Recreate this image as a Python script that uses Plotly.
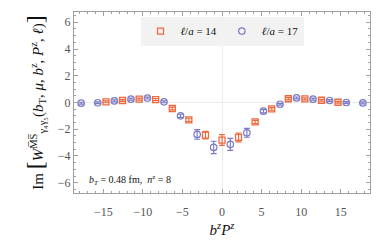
import plotly.graph_objects as go

# ℓ/a = 17 (blue circles)
blue_x = [-17.8, -15.7, -13.6, -11.5, -9.42, -7.33, -5.24, -3.14, -1.05,
          1.05, 3.14, 5.24, 7.33, 9.42, 11.5, 13.6, 15.7, 17.8]
blue_y = [-0.05, -0.02, 0.12, 0.25, 0.33, 0.05, -1.0, -2.39, -3.36,
          -3.13, -2.27, -0.65, -0.13, 0.34, 0.25, 0.15, 0.0, -0.03]
blue_err = [0.07, 0.07, 0.07, 0.07, 0.07, 0.07, 0.12, 0.36, 0.46,
            0.45, 0.33, 0.12, 0.07, 0.07, 0.07, 0.07, 0.07, 0.07]

# ℓ/a = 14 (orange squares)
orange_x = [-14.66, -12.57, -10.47, -8.38, -6.28, -4.19, -2.09, 0.0,
            2.09, 4.19, 6.28, 8.38, 10.47, 12.57, 14.66]
orange_y = [0.05, 0.15, 0.25, 0.22, -0.45, -1.3, -2.44, -2.81,
            -2.61, -1.45, -0.48, 0.28, 0.27, 0.17, 0.02]
orange_err = [0.07, 0.07, 0.07, 0.08, 0.1, 0.12, 0.28, 0.4,
              0.33, 0.12, 0.1, 0.08, 0.07, 0.07, 0.07]

x_ticks = [-15, -10, -5, 0, 5, 10, 15]
x_ticklabels = ["\u221215", "\u221210", "\u22125", "0", "5", "10", "15"]
y_ticks = [-6, -4, -2, 0, 2, 4, 6]
y_ticklabels = ["\u22126", "\u22124", "\u22122", "0", "2", "4", "6"]

ORANGE = "#ee6a3c"
BLUE = "#7c7cc6"
SERIF = "Liberation Serif, Times New Roman, serif"

fig = go.Figure()
fig.add_trace(go.Scatter(
    x=orange_x, y=orange_y, mode="markers",
    name="<i>\u2113</i>/<i>a</i> = 14",
    marker=dict(symbol="square-open", size=6, color=ORANGE, line=dict(width=1.3, color=ORANGE)),
    error_y=dict(type="data", array=orange_err, visible=True, color=ORANGE, thickness=1.2, width=3),
))
fig.add_trace(go.Scatter(
    x=blue_x, y=blue_y, mode="markers",
    name="<i>\u2113</i>/<i>a</i> = 17",
    marker=dict(symbol="circle-open", size=6.5, color=BLUE, line=dict(width=1.2, color=BLUE)),
    error_y=dict(type="data", array=blue_err, visible=True, color=BLUE, thickness=1.2, width=3),
))

axis_common = dict(
    showline=True, linecolor="#a0a0a0", linewidth=1, mirror="ticks",
    ticks="inside", ticklen=4, tickcolor="#a0a0a0", showgrid=False,
    zeroline=True, zerolinecolor="#ebebeb", zerolinewidth=1,
    tickfont=dict(family=SERIF, size=12, color="#555555"),
    automargin=False,
)

fig.update_xaxes(
    range=[-18.7, 18.7], tickvals=x_ticks, ticktext=x_ticklabels,
    minor=dict(dtick=1, ticks="inside", ticklen=2, tickcolor="#a0a0a0"),
    ticklabelstandoff=8,
    title=dict(text="<i>b<sup>z</sup>P<sup>z</sup></i>", font=dict(family=SERIF, size=15, color="#111111"), standoff=6),
    **axis_common,
)
fig.update_yaxes(
    range=[-6.77, 6.77], tickvals=y_ticks, ticktext=y_ticklabels,
    minor=dict(dtick=0.5, ticks="inside", ticklen=2, tickcolor="#a0a0a0"),
    title=dict(
        text="Im <span style='font-size:24px'>[</span><i>W</i><sup>M\u0305S\u0305</sup><sub>\u03b3\u2084\u03b3\u2085</sub>(<i>b</i><sub>T</sub>, <i>\u03bc</i>, <i>b</i><sup>z</sup>, <i>P</i><sup>z</sup>, <i>\u2113</i>)<span style='font-size:24px'>]</span>",
        font=dict(family=SERIF, size=15, color="#111111"), standoff=10),
    **axis_common,
)

fig.add_annotation(
    xref="paper", yref="paper", x=0.045, y=0.072, xanchor="left", yanchor="middle",
    text="<i>b<sub>T</sub></i> = 0.48 fm,  <i>n</i><sup>z</sup> = 8",
    showarrow=False, font=dict(family=SERIF, size=10, color="#111111"),
)

fig.update_layout(
    width=382, height=243,
    margin=dict(l=74, r=12, t=12, b=50),
    paper_bgcolor="white", plot_bgcolor="white",
    showlegend=True,
    legend=dict(orientation="h", x=0.5, xanchor="center", y=0.975, yanchor="top",
                bgcolor="#f2f2f2", font=dict(family=SERIF, size=11, color="#111111"),
                itemwidth=30, tracegroupgap=0),
)

fig.write_html(
    "out.html",
    config={"displayModeBar": False},
    post_script="document.body.style.margin='0';document.body.style.overflow='hidden';",
)
